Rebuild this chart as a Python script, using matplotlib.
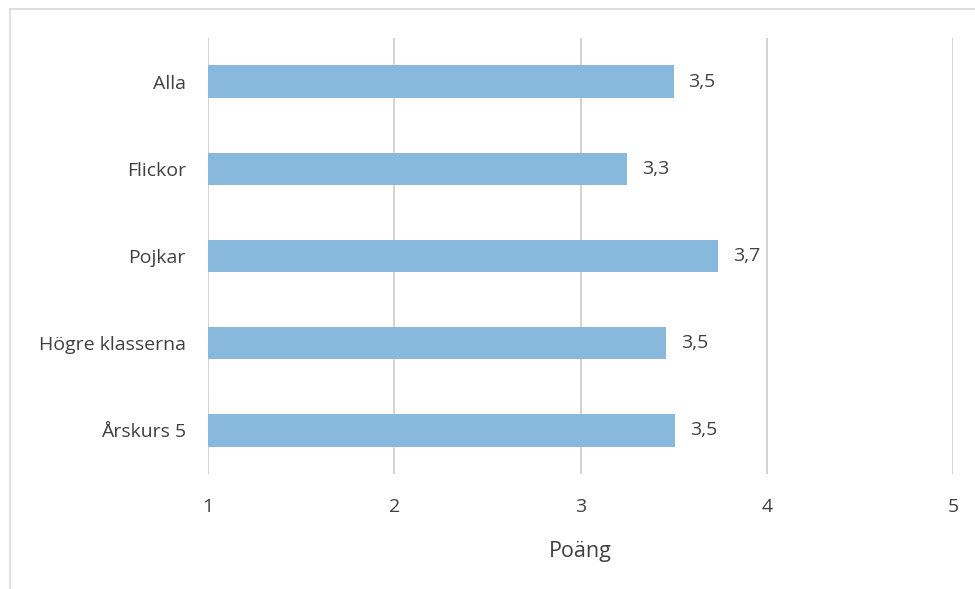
import matplotlib.pyplot as plt
from matplotlib.lines import Line2D

# data
categories = ["Alla", "Flickor", "Pojkar", "Högre klasserna", "Årskurs 5"]
values = [3.50, 3.25, 3.74, 3.46, 3.51]
labels = ["3,5", "3,3", "3,7", "3,5", "3,5"]
xticks = [1, 2, 3, 4, 5]

plt.rcParams['font.family'] = ['Open Sans', 'DejaVu Sans']
txt = "#404040"
fs = 14

fig = plt.figure(figsize=(9.75, 5.89), dpi=100)
ax = fig.add_axes([208/975, 1-474/589, (953-208)/975, (474-38)/589])

y = list(range(len(categories)))
base = xticks[0]
ax.barh(y, [v - base for v in values], left=base, height=0.37,
        color="#89b8dd", zorder=3)

for yi, v, lab in zip(y, values, labels):
    ax.text(v + 0.08, yi, lab, ha="left", va="center", fontsize=fs, color=txt)

ax.set_xlim(1, 5)
ax.set_ylim(len(categories) - 0.5, -0.5)
ax.set_xticks(xticks)
ax.set_xticklabels([str(t) for t in xticks], fontsize=fs, color=txt)
ax.set_yticks(y)
ax.set_yticklabels(categories, fontsize=fs, color=txt)
ax.tick_params(length=0)
ax.tick_params(axis="x", pad=17)
ax.tick_params(axis="y", pad=16)
ax.grid(axis="x", color="#d0d0d0", lw=1.3, zorder=0)
for s in ax.spines.values():
    s.set_visible(False)
ax.set_xlabel("Poäng", fontsize=15.5, color=txt, labelpad=18)

# chart frame
fig.add_artist(Line2D([9.5/975, 1], [1-8.5/589]*2, color="#d9d9d9", lw=1.2))
fig.add_artist(Line2D([9.5/975]*2, [0, 1-8.5/589], color="#d9d9d9", lw=1.2))

fig.savefig("out.png", dpi=100)
